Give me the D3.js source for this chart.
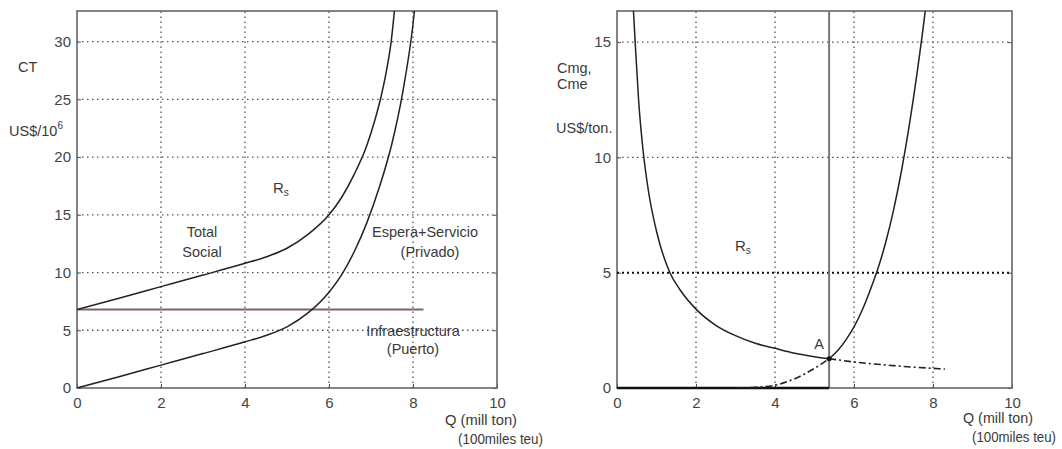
<!DOCTYPE html>
<html>
<head>
<meta charset="utf-8">
<script src="https://cdn.jsdelivr.net/npm/d3@7"></script>
<style>
  body { margin: 0; background: #fff; }
  svg text { font-family: "Liberation Sans", Arial, sans-serif; fill: #3a3a3a; }
</style>
</head>
<body>
<svg id="chart" width="1062" height="449"></svg>
<script>
// ---- data ----
var xTicks = [0, 2, 4, 6, 8, 10];
var leftYTicks = [0, 5, 10, 15, 20, 25, 30];
var rightYTicks = [0, 5, 10, 15];

// left panel: total costs (US$/10^6)
var privadoQ = [0, 1, 2, 3, 4, 4.5, 5, 5.5, 6, 6.3, 6.6, 6.9, 7.2, 7.5, 7.75, 8.0, 8.1];
var privadoC = [0, 0.98, 1.98, 2.98, 4.0, 4.55, 5.3, 6.5, 8.3, 9.8, 11.8, 14.3, 17.4, 21.2, 25.5, 31.5, 35];
var totalQ = [0, 1, 2, 3, 4, 4.5, 5, 5.5, 6, 6.3, 6.6, 6.9, 7.1, 7.25, 7.38, 7.48, 7.58];
var totalC = [6.8, 7.78, 8.78, 9.78, 10.8, 11.35, 12.1, 13.3, 15.0, 16.5, 18.5, 21, 23.3, 25.4, 27.7, 30, 33.5];
var infraQ = [0, 8.25];
var infraC = [6.8, 6.8];

// right panel: unit costs (US$/ton)
var cmeQ = [0.38, 0.46, 0.55, 0.66, 0.8, 1.0, 1.34, 1.6, 2, 2.5, 3, 3.5, 4, 4.5, 5, 5.37];
var cmeC = [17.5, 15, 12.4, 10.3, 8.5, 6.8, 5.0, 4.25, 3.42, 2.72, 2.27, 1.94, 1.72, 1.51, 1.36, 1.27];
var cmeDashQ = [5.37, 6, 7, 8.3];
var cmeDashC = [1.27, 1.13, 0.97, 0.82];
var cmgDashQ = [3, 3.5, 4, 4.5, 5, 5.37];
var cmgDashC = [0, 0.03, 0.12, 0.4, 0.85, 1.27];
var cmgQ = [5.37, 5.6, 5.8, 6, 6.2, 6.4, 6.6, 6.8, 7.0, 7.2, 7.4, 7.6, 7.8, 7.9];
var cmgC = [1.27, 1.65, 2.1, 2.65, 3.35, 4.2, 5.15, 6.3, 7.7, 9.4, 11.4, 13.7, 16.3, 17.8];
var qOptimo = 5.37;

var svg = d3.select('#chart');

function zip(xs, ys) { return xs.map((d, i) => [d, ys[i]]); }

function panel(id, left, right, yMax, yTicks) {
  var x = d3.scaleLinear().domain([0, 10]).range([left, right]);
  var y = d3.scaleLinear().domain([0, yMax]).range([388, 11]);
  var g = svg.append('g');

  g.append('clipPath').attr('id', id)
    .append('rect')
    .attr('x', left).attr('y', 11)
    .attr('width', right - left).attr('height', 377);

  // dotted grid
  g.selectAll('.vg').data(xTicks.filter(d => d > 0 && d < 10)).enter()
    .append('line')
    .attr('x1', d => x(d)).attr('x2', d => x(d))
    .attr('y1', y(0)).attr('y2', y(yMax))
    .attr('stroke', '#555').attr('stroke-width', 1.3)
    .attr('stroke-dasharray', '1.5,3.5');
  g.selectAll('.hg').data(yTicks.filter(d => d > 0)).enter()
    .append('line')
    .attr('x1', x(0)).attr('x2', x(10))
    .attr('y1', d => y(d)).attr('y2', d => y(d))
    .attr('stroke', '#555').attr('stroke-width', 1.3)
    .attr('stroke-dasharray', '1.5,3.5');

  // axes, ticks pointing in
  g.append('g').attr('transform', 'translate(0,388)')
    .call(d3.axisBottom(x).tickValues(xTicks).tickSize(-4).tickPadding(9))
    .call(a => a.select('.domain').remove());
  g.append('g').attr('transform', `translate(${left},0)`)
    .call(d3.axisLeft(y).tickValues(yTicks).tickSize(-4).tickPadding(6))
    .call(a => a.select('.domain').remove());
  g.append('g').attr('transform', `translate(${right},0)`)
    .call(d3.axisRight(y).tickValues(yTicks).tickSize(-4).tickFormat(''))
    .call(a => a.select('.domain').remove());
  g.selectAll('.tick line').attr('stroke', '#555');
  g.selectAll('.tick text').attr('font-size', 15).style('fill', '#444');

  g.append('rect')
    .attr('x', left).attr('y', 11)
    .attr('width', right - left).attr('height', 377)
    .attr('fill', 'none').attr('stroke', '#666').attr('stroke-width', 1.6);

  return { x: x, y: y, g: g, id: id };
}

function curve(p, xs, ys, opts) {
  var line = d3.line().x(d => p.x(d[0])).y(d => p.y(d[1])).curve(d3.curveMonotoneX);
  p.g.append('path')
    .attr('clip-path', `url(#${p.id})`)
    .attr('d', line(zip(xs, ys)))
    .attr('fill', 'none')
    .attr('stroke', opts.color || '#222')
    .attr('stroke-width', opts.width || 1.5)
    .attr('stroke-dasharray', opts.dash || null);
}

function label(x, y, txt, anchor, size) {
  return svg.append('text')
    .attr('x', x).attr('y', y)
    .attr('text-anchor', anchor || 'start')
    .attr('dominant-baseline', 'middle')
    .attr('font-size', size || 14.5)
    .text(txt);
}

// ---- left panel ----
var L = panel('clipL', 77, 497, 32.65, leftYTicks);
curve(L, infraQ, infraC, { color: '#7d6464', width: 2.2 });
curve(L, privadoQ, privadoC, {});
curve(L, totalQ, totalC, {});

label(18, 68, 'CT');
var us = label(9, 132, 'US$/10');
us.append('tspan').attr('dy', -6).attr('font-size', 10).text('6');
var rs = label(273, 189, 'R', 'start', 15);
rs.append('tspan').attr('dy', 4).attr('font-size', 10).text('s');
label(202, 233, 'Total', 'middle');
label(202, 253, 'Social', 'middle');
label(425, 233, 'Espera+Servicio', 'middle');
label(430, 253, '(Privado)', 'middle');
label(413, 332, 'Infraestructura', 'middle');
label(413, 350, '(Puerto)', 'middle');
label(445, 421, 'Q (mill ton)', 'start', 14).attr('textLength', 72).attr('lengthAdjust', 'spacingAndGlyphs');
label(458, 440, '(100miles teu)', 'start', 14).attr('textLength', 85).attr('lengthAdjust', 'spacingAndGlyphs');

// ---- right panel ----
var R = panel('clipR', 617, 1012, 16.35, rightYTicks);
// heavier dotted line at 5
R.g.append('line')
  .attr('x1', R.x(0)).attr('x2', R.x(10))
  .attr('y1', R.y(5)).attr('y2', R.y(5))
  .attr('stroke', '#111').attr('stroke-width', 2)
  .attr('stroke-dasharray', '2,3');
// vertical line at optimum
R.g.append('line')
  .attr('x1', R.x(qOptimo)).attr('x2', R.x(qOptimo))
  .attr('y1', R.y(0)).attr('y2', R.y(16.35))
  .attr('stroke', '#777').attr('stroke-width', 2);
// base line up to optimum
R.g.append('line')
  .attr('x1', R.x(0)).attr('x2', R.x(qOptimo))
  .attr('y1', R.y(0)).attr('y2', R.y(0))
  .attr('stroke', '#111').attr('stroke-width', 2.6);

curve(R, cmeQ, cmeC, {});
curve(R, cmeDashQ, cmeDashC, { dash: '7,3,2,3', width: 1.6 });
curve(R, cmgDashQ, cmgDashC, { dash: '7,3,2,3', width: 1.6 });
curve(R, cmgQ, cmgC, {});
R.g.append('circle')
  .attr('cx', R.x(qOptimo)).attr('cy', R.y(1.27))
  .attr('r', 2.5).attr('fill', '#111');

label(557, 69, 'Cmg,');
label(557, 85, 'Cme');
label(556, 129, 'US$/ton.');
var rs2 = label(735, 247, 'R', 'start', 15);
rs2.append('tspan').attr('dy', 4).attr('font-size', 10).text('s');
label(819, 345, 'A', 'middle');
label(963, 419, 'Q (mill ton)', 'start', 14).attr('textLength', 70).attr('lengthAdjust', 'spacingAndGlyphs');
label(972, 438, '(100miles teu)', 'start', 14).attr('textLength', 84).attr('lengthAdjust', 'spacingAndGlyphs');
</script>
</body>
</html>
